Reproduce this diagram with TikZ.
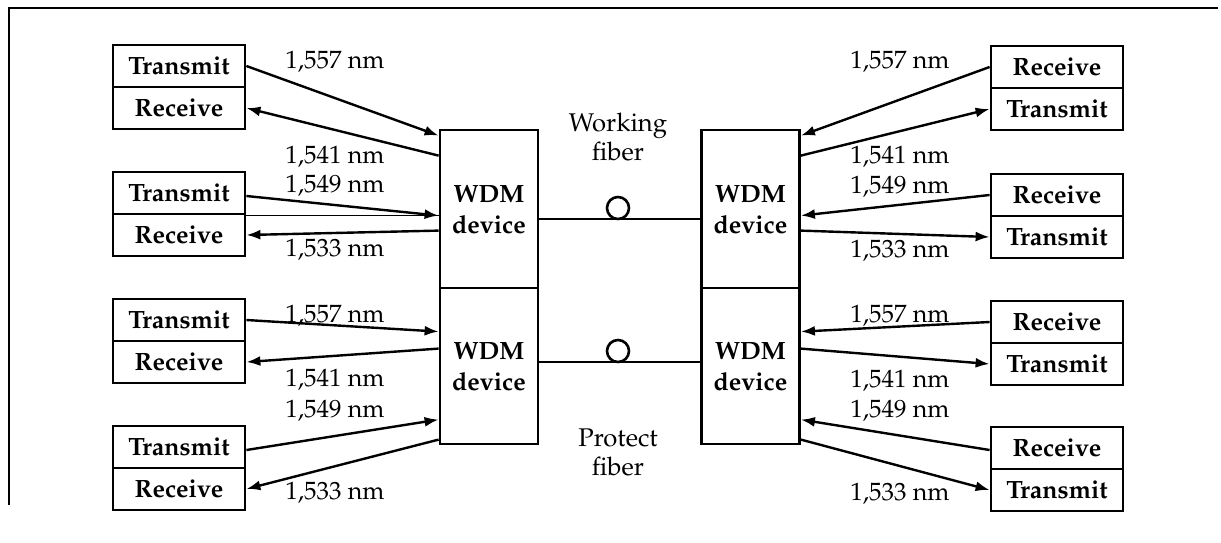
\documentclass[tikz,border=0pt]{standalone}
\usepackage[T1]{fontenc}
\renewcommand{\rmdefault}{ppl}
\usetikzlibrary{arrows.meta,calc}
\begin{document}
\begin{tikzpicture}[x=0.5pt,y=-0.5pt,
  half/.style={draw, line width=1.4pt, minimum width=66pt, minimum height=21pt, inner sep=0pt, font=\fontsize{12.5}{15}\selectfont\bfseries},
  wdm/.style={draw, line width=1.4pt, minimum width=49pt, inner sep=0pt, align=center, font=\fontsize{12.5}{15.5}\selectfont\bfseries},
  lab/.style={inner sep=0pt, font=\fontsize{12.5}{15}\selectfont},
  flab/.style={inner sep=0pt, align=center, font=\fontsize{12.8}{14.5}\selectfont},
  conn/.style={line width=1.2pt, -{Latex[length=7pt,width=5pt]}},
  thin/.style={line width=0.7pt},
  fib/.style={line width=1.3pt},
  ring/.style={draw, circle, line width=1.3pt, minimum size=11pt, inner sep=0pt}]
\useasboundingbox (0,0) rectangle (1221,542);
% frame
\coordinate (f0) at (9,8);
\coordinate (f1) at (1218,8);
\coordinate (f2) at (9,505);
\draw[line width=1.3pt] (f2) -- (f0) -- (f1);
% left boxes
\node[half] (LT1) at (179,66) {Transmit};
\node[half] (LR1) at (179,108) {Receive};
\node[half] (LT2) at (179,193) {Transmit};
\node[half] (LR2) at (179,235) {Receive};
\node[half] (LT3) at (179,320) {Transmit};
\node[half] (LR3) at (179,362) {Receive};
\node[half] (LT4) at (179,447) {Transmit};
\node[half] (LR4) at (179,489) {Receive};
% right boxes
\node[half] (RR1) at (1057,67) {Receive};
\node[half] (RT1) at (1057,109) {Transmit};
\node[half] (RR2) at (1057,195) {Receive};
\node[half] (RT2) at (1057,237) {Transmit};
\node[half] (RR3) at (1057,322) {Receive};
\node[half] (RT3) at (1057,364) {Transmit};
\node[half] (RR4) at (1057,448) {Receive};
\node[half] (RT4) at (1057,490) {Transmit};
% WDM devices
\node[wdm, minimum height=79pt] (WLa) at (489,209) {WDM\\device};
\node[wdm, minimum height=78pt] (WLb) at (489,366) {WDM\\device};
\node[wdm, minimum height=79pt] (WRa) at (750.5,209) {WDM\\device};
\node[wdm, minimum height=78pt] (WRb) at (750.5,366) {WDM\\device};
% fibers
\draw[fib] ($(WLa.east)+(0,10)$) -- ($(WRa.west)+(0,10)$);
\draw[fib] ($(WLb.east)+(0,-4)$) -- ($(WRb.west)+(0,-4)$);
\node[ring] (cW) at (618,208) {};
\node[ring] (cP) at (618,351) {};
\node[flab] (wf) at (618,137) {Working\\fiber};
\node[flab] (pf) at (618,452) {Protect\\fiber};
% left connectors
\draw[conn] (LT1.east) -- ($(WLa.north west)+(0,7)$);
\draw[conn] ($(WLa.north west)+(0,27)$) -- (LR1.east);
\draw[conn] ($(LT2.east)+(0,3)$) -- ($(WLa.north west)+(0,87)$);
\draw[thin] (LT2.south east) -- (LT2.south east -| WLa.west);
\draw[conn] ($(WLa.north west)+(0,102)$) -- (LR2.east);
\draw[conn] (LT3.east) -- ($(WLb.north west)+(0,45)$);
\draw[conn] ($(WLb.north west)+(0,62)$) -- (LR3.east);
\draw[conn] ($(LT4.east)+(0,3)$) -- ($(WLb.north west)+(0,133)$);
\draw[conn] ($(WLb.north west)+(0,153)$) -- (LR4.east);
% right connectors
\draw[conn] (RR1.west) -- ($(WRa.north east)+(0,7)$);
\draw[conn] ($(WRa.north east)+(0,27)$) -- (RT1.west);
\draw[conn] (RR2.west) -- ($(WRa.north east)+(0,87)$);
\draw[conn] ($(WRa.north east)+(0,102)$) -- (RT2.west);
\draw[conn] (RR3.west) -- ($(WRb.north east)+(0,45)$);
\draw[conn] ($(WRb.north east)+(0,62)$) -- (RT3.west);
\draw[conn] ($(RR4.west)+(0,2)$) -- ($(WRb.north east)+(0,133)$);
\draw[conn] ($(WRb.north east)+(0,153)$) -- (RT4.west);
% left labels
\node[lab] (l1) at (335,62) {1,557 nm};
\node[lab] (l2) at (335,157) {1,541 nm};
\node[lab] (l3) at (335,186) {1,549 nm};
\node[lab] (l4) at (335,250) {1,533 nm};
\node[lab] (l5) at (335,316) {1,557 nm};
\node[lab] (l6) at (335,380) {1,541 nm};
\node[lab] (l7) at (335,411) {1,549 nm};
\node[lab] (l8) at (335,493) {1,533 nm};
% right labels
\node[lab] (r1) at (900,62) {1,557 nm};
\node[lab] (r2) at (900,157) {1,541 nm};
\node[lab] (r3) at (900,187) {1,549 nm};
\node[lab] (r4) at (900,251) {1,533 nm};
\node[lab] (r5) at (900,316) {1,557 nm};
\node[lab] (r6) at (900,381) {1,541 nm};
\node[lab] (r7) at (900,411) {1,549 nm};
\node[lab] (r8) at (900,494) {1,533 nm};
\end{tikzpicture}
\end{document}
